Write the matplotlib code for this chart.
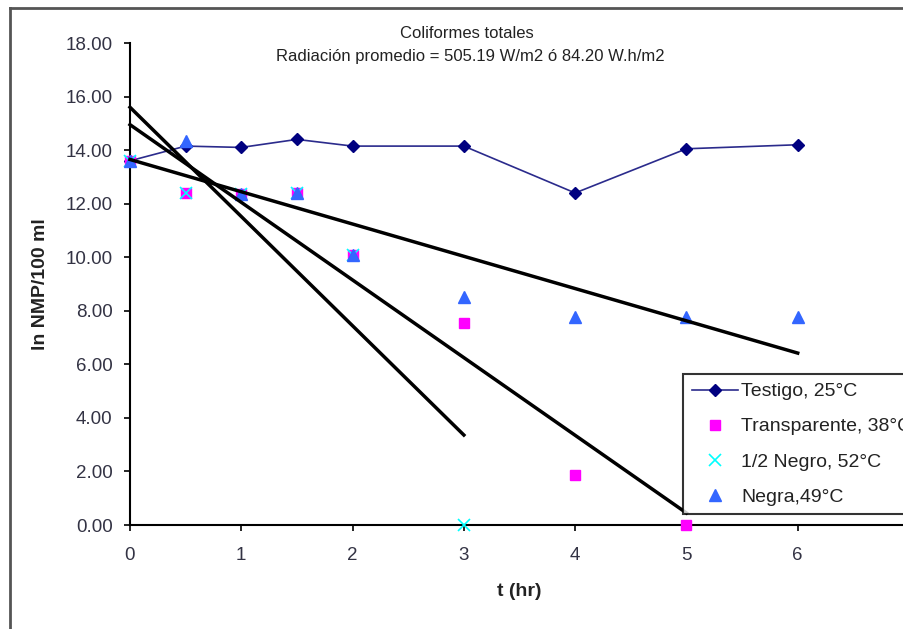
import matplotlib.pyplot as plt
from matplotlib.lines import Line2D

plt.rcParams['font.family'] = ['Liberation Sans', 'DejaVu Sans']

# measured data
t_testigo = [0, 0.5, 1, 1.5, 2, 3, 4, 5, 6]
y_testigo = [13.6, 14.15, 14.1, 14.4, 14.15, 14.15, 12.4, 14.05, 14.2]

t_transp = [0, 0.5, 1, 1.5, 2, 3, 4, 5]
y_transp = [13.6, 12.4, 12.35, 12.4, 10.1, 7.55, 1.85, 0.0]

t_medio = [0, 0.5, 1, 1.5, 2, 3]
y_medio = [13.6, 12.4, 12.35, 12.4, 10.1, 0.0]

t_negra = [0, 0.5, 1, 1.5, 2, 3, 4, 5, 6]
y_negra = [13.6, 14.35, 12.35, 12.4, 10.1, 8.5, 7.75, 7.75, 7.75]

# trend lines (end points)
trend_x = [[0, 6], [0, 5], [0, 3]]
trend_y = [[13.65, 6.42], [14.95, 0.45], [15.6, 3.36]]

labels = ['Testigo, 25°C', 'Transparente, 38°C', '1/2 Negro, 52°C', 'Negra,49°C']

fig = plt.figure(figsize=(9.04, 6.29), dpi=100)
ax = fig.add_axes([130 / 904, 104 / 629, 779 / 904, 482 / 629])

ax.plot(t_testigo, y_testigo, color='#2B2B8C', lw=1.2, marker='D', ms=6.5,
        mfc='#000080', mec='#000080', label=labels[0], clip_on=False, zorder=3)
ax.plot(t_transp, y_transp, ls='none', marker='s', ms=7, color='#FF00FF',
        label=labels[1], clip_on=False, zorder=3)
ax.plot(t_medio, y_medio, ls='none', marker='x', ms=8, mew=1.2, color='#00FFFF',
        label=labels[2], clip_on=False, zorder=4)
ax.plot(t_negra, y_negra, ls='none', marker='^', ms=8, color='#3366FF',
        label=labels[3], clip_on=False, zorder=5)

for xs, ys in zip(trend_x, trend_y):
    ax.plot(xs, ys, color='black', lw=2.5, zorder=6, clip_on=False)

ax.set_xlim(0, 7)
ax.set_ylim(0, 18)
ax.set_xticks(range(0, 8))
ax.set_yticks(range(0, 19, 2))
ax.set_yticklabels(['%.2f' % v for v in range(0, 19, 2)])
ax.tick_params(axis='both', direction='out', length=4.5, width=1.2, colors='black',
               labelcolor='#333344', labelsize=13.5)
ax.tick_params(axis='x', pad=11)
ax.tick_params(axis='y', pad=8)
for s in ['top', 'right']:
    ax.spines[s].set_visible(False)
for s in ['left', 'bottom']:
    ax.spines[s].set_linewidth(1.5)

ax.set_xlabel('t (hr)', fontsize=14, fontweight='bold', color='#222222', labelpad=14)
ax.set_ylabel('ln NMP/100 ml', fontsize=14, fontweight='bold', color='#222222', labelpad=12)

fig.text(467 / 904, 1 - 33 / 629, 'Coliformes totales', ha='center', va='center',
         fontsize=12, color='#222222')
fig.text(470 / 904, 1 - 57 / 629, 'Radiación promedio = 505.19 W/m2 ó 84.20 W.h/m2',
         ha='center', va='center', fontsize=12, color='#222222')

leg = ax.legend(loc='upper left', bbox_to_anchor=(553 / 779, 151 / 482),
                borderaxespad=0, frameon=True, fancybox=False, edgecolor='black',
                fontsize=14, labelspacing=0.9, handlelength=2.4, borderpad=0.45,
                handletextpad=0.15)
leg.get_frame().set_linewidth(1.5)
for txt in leg.get_texts():
    txt.set_color('#222222')
leg.set_zorder(10)

# outer chart frame
fig.add_artist(Line2D([10 / 904, 10 / 904], [-0.1, 1 - 8 / 629], color='#555555',
                      lw=2, transform=fig.transFigure))
fig.add_artist(Line2D([10 / 904, 1.1], [1 - 8 / 629, 1 - 8 / 629], color='#555555',
                      lw=2, transform=fig.transFigure))

fig.savefig('out.png', dpi=100)
